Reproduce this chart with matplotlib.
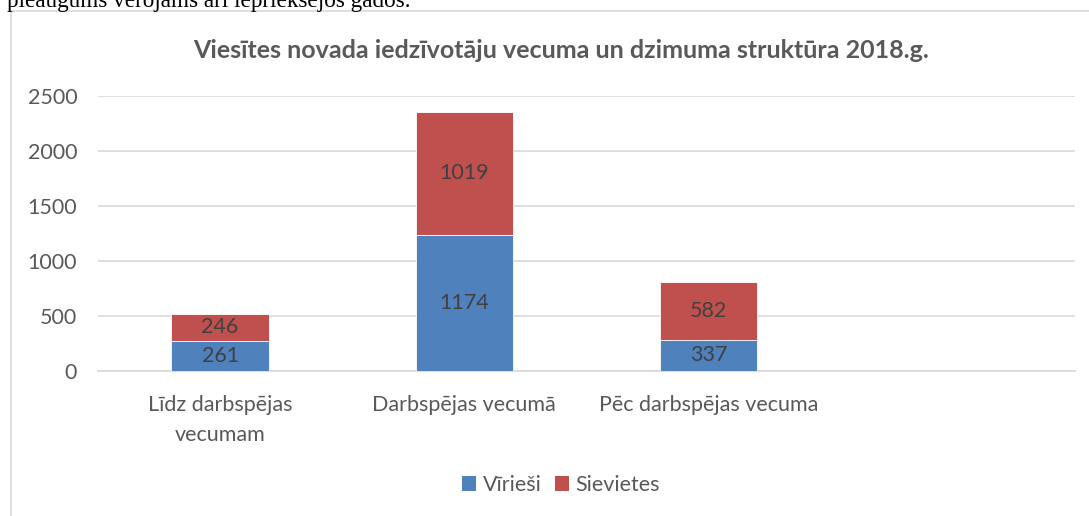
import matplotlib
matplotlib.use("Agg")
import matplotlib.pyplot as plt
from matplotlib.patches import Rectangle, Patch

# ---- data ----
categories = ["Līdz darbspējas\nvecumam", "Darbspējas vecumā", "Pēc darbspējas vecuma"]
series_names = ["Vīrieši", "Sievietes"]
viriesi = [273, 1236, 282]          # drawn bar heights (as in picture)
sievietes = [245, 1119, 527]
viriesi_labels = ["261", "1174", "337"]   # printed data labels
sievietes_labels = ["246", "1019", "582"]
yticks = [0, 500, 1000, 1500, 2000, 2500]
title = "Viesītes novada iedzīvotāju vecuma un dzimuma struktūra 2018.g."
top_text = "pieaugums vērojams arī iepriekšējos gados."

BLUE = "#4F81BD"
RED = "#C0504D"
TXT = "#595959"
LBL = "#404040"
GRID = "#D9D9D9"
FONT = "Lato"
FS = 15.5

W, H = 1089, 516
fig = plt.figure(figsize=(W / 100, H / 100), dpi=100)
fig.patch.set_facecolor("white")

def fx(px):
    return px / W

def fy(py):
    return 1 - py / H

# chart frame (extends beyond the image to the right and bottom)
fig.add_artist(Rectangle((fx(11), fy(600)), 2, fy(11) - fy(600),
                         transform=fig.transFigure, fill=False,
                         edgecolor=GRID, linewidth=1.2, clip_on=False))

# document text above the chart (cut off by the page edge, as in the reference)
fig.text(fx(7), fy(7), top_text, family="Liberation Serif", fontsize=16.7,
         color="black", ha="left", va="baseline")

ax = fig.add_axes([fx(98), fy(371), fx(1075) - fx(98), fy(96) - fy(371)])
x = list(range(len(categories)))
bw = 0.4
ax.bar(x, viriesi, bw, color=BLUE, edgecolor="white", linewidth=0.6, zorder=3,
       label=series_names[0])
ax.bar(x, sievietes, bw, bottom=viriesi, color=RED, edgecolor="white",
       linewidth=0.6, zorder=3, label=series_names[1])

for i in x:
    ax.text(i, viriesi[i] / 2, viriesi_labels[i], ha="center", va="center",
            color=LBL, fontsize=FS, family=FONT, zorder=4)
    ax.text(i, viriesi[i] + sievietes[i] / 2, sievietes_labels[i], ha="center",
            va="center", color=LBL, fontsize=FS, family=FONT, zorder=4)

ax.set_xlim(-0.5, 3.5)
ax.set_ylim(0, 2500)
ax.set_yticks(yticks)
ax.set_yticklabels([str(v) for v in yticks], color=TXT, fontsize=FS, family=FONT)
ax.set_xticks(x)
ax.set_xticklabels(categories, color=TXT, fontsize=FS, family=FONT,
                   linespacing=1.65, va="top")
ax.tick_params(axis="both", length=0)
ax.tick_params(axis="y", pad=15)
ax.tick_params(axis="x", pad=17)
ax.grid(axis="y", color=GRID, linewidth=1.2, zorder=0)
for s in ["top", "right", "left"]:
    ax.spines[s].set_visible(False)
ax.spines["bottom"].set_color(GRID)
ax.spines["bottom"].set_linewidth(1.2)
ax.set_facecolor("none")

fig.text(fx(561), fy(50), title, ha="center", va="center", fontsize=18,
         fontweight="bold", color=TXT, family=FONT)

handles = [Patch(facecolor=BLUE, edgecolor="none"), Patch(facecolor=RED, edgecolor="none")]
fig.legend(handles, series_names, loc="center", bbox_to_anchor=(fx(561), fy(485)),
           ncol=2, frameon=False, handlelength=0.65, handleheight=0.65,
           handletextpad=0.3, columnspacing=0.6,
           prop={"family": FONT, "size": FS}, labelcolor=TXT)

fig.savefig("out.png", dpi=100, facecolor="white")
